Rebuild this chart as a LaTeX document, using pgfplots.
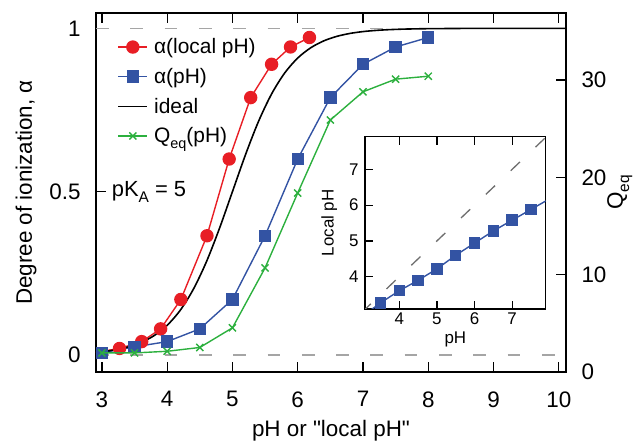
\documentclass[border=0pt]{standalone}
\usepackage{fontspec}
\setmainfont{Liberation Sans}
\usepackage{pgfplots}
\pgfplotsset{compat=1.18}
\definecolor{cred}{RGB}{232,30,37}
\definecolor{cblue}{RGB}{51,83,163}
\definecolor{cgreen}{RGB}{44,176,62}
\definecolor{cgray}{RGB}{165,165,165}
\definecolor{cdgray}{RGB}{110,110,110}
\newcommand{\sub}[1]{\raisebox{-0.28em}{\fontsize{15.5}{16}\selectfont #1}}
\pgfplotsset{
  mainframe/.style={
    scale only axis, width=470bp, height=359bp,
    at={(0,0)}, anchor=south west,
    xmin=2.91, xmax=10.11,
    tick align=inside, major tick length=10bp,
    axis line style={line width=1.6bp},
    tick style={line width=1.3bp, black},
    font=\fontsize{22.5}{27}\selectfont,
    /pgf/number format/assume math mode=true,
  }
}
\begin{document}
\begin{tikzpicture}
\path[use as bounding box] (-96bp,-75bp) rectangle (543bp,372bp);
\begin{axis}[
  mainframe,
  ymin=-0.052, ymax=1.047,
  xtick={3,4,5,6,7,8,9,10}, ytick={0,0.5,1},
  xtick pos=both, ytick pos=left,
  xticklabel shift=16bp, yticklabel shift=12bp,
  xlabel shift=6bp, ylabel shift=6bp,
  xlabel={pH or \textquotedbl local pH\textquotedbl},
  ylabel={Degree of ionization, α},
  legend style={at={(0.039,0.94)}, anchor=north west, draw=none, fill=none,
    font=\fontsize{21}{25}\selectfont, row sep=9bp},
  legend cell align=left,
  legend image code/.code={\draw[mark repeat=2,mark phase=2] plot coordinates {(0bp,0bp) (14.5bp,0bp) (29bp,0bp)}; \path (33bp,0bp);},
]
\addplot[cgray, dash pattern=on 12.7bp off 21.6bp, line width=1.4bp, forget plot] coordinates {(2.91,0) (10.11,0)};
\addplot[cgray, dash pattern=on 12.7bp off 21.6bp, line width=1.4bp, forget plot] coordinates {(2.91,1) (10.11,1)};
\addplot[cred, line width=1.4bp, mark=*, mark size=6bp, mark options={solid}] coordinates {
(2.88,0.007) (3.27,0.020) (3.61,0.041) (3.90,0.080) (4.21,0.170) (4.61,0.365)
(4.95,0.600) (5.28,0.788) (5.60,0.890) (5.89,0.943) (6.18,0.972)};
\addlegendentry{α(local pH)}
\addplot[cblue, line width=1.4bp, mark=square*, mark size=5.5bp, mark options={solid}] coordinates {
(3.0,0.007) (3.5,0.025) (4.0,0.041) (4.5,0.080) (5.0,0.170) (5.5,0.365)
(6.0,0.600) (6.5,0.788) (7.0,0.890) (7.5,0.943) (8.0,0.972)};
\addlegendentry{α(pH)}
\addplot[black, line width=1.6bp, smooth] coordinates {
(2.9,0.0079) (3.0,0.0099) (3.2,0.0156) (3.4,0.0245) (3.6,0.0383) (3.8,0.0594)
(4.0,0.0909) (4.2,0.1368) (4.4,0.2008) (4.6,0.2847) (4.8,0.3869) (5.0,0.5)
(5.2,0.6131) (5.4,0.7153) (5.6,0.7992) (5.8,0.8632) (6.0,0.9091) (6.2,0.9406)
(6.4,0.9617) (6.6,0.9755) (6.8,0.9844) (7.0,0.9901) (7.2,0.9937) (7.4,0.9960)
(7.6,0.9975) (7.8,0.9984) (8.0,0.9990) (8.5,0.9997) (9.0,0.9999) (10.11,1.0)};
\addlegendentry{ideal}
\addlegendimage{cgreen, line width=1.4bp, mark=x, mark size=5bp, mark options={solid}}
\addlegendentry{Q{\raisebox{-0.28em}{\fontsize{14.5}{15}\selectfont eq}}(pH)}
\node[anchor=west, font=\fontsize{22}{26}\selectfont] at (axis cs:3.1,0.5) {pK\sub{A} = 5};
\end{axis}
\begin{axis}[
  mainframe,
  ymin=0, ymax=36.9,
  axis x line=none, axis y line*=right,
  ytick={0,10,20,30},
  yticklabel shift=12bp, ylabel shift=-6bp,
  ylabel={Q\sub{eq}},
]
\addplot[cgreen, line width=1.4bp, mark=x, mark size=5bp, mark options={solid}] coordinates {
(3.0,1.96) (3.5,1.96) (4.0,2.13) (4.5,2.52) (5.0,4.54) (5.5,10.7)
(6.0,18.4) (6.5,25.9) (7.0,28.8) (7.5,30.1) (8.0,30.4)};
\end{axis}
\begin{axis}[
  scale only axis, width=180.7bp, height=172.3bp,
  at={(269bp,63bp)}, anchor=south west,
  xmin=3.09, xmax=7.89, ymin=3.1, ymax=7.91,
  xtick={4,5,6,7}, ytick={4,5,6,7},
  xtick pos=both, ytick pos=left,
  tick align=inside, major tick length=8bp,
  axis line style={line width=1.4bp},
  tick style={line width=1.2bp, black},
  font=\fontsize{17}{20}\selectfont,
  /pgf/number format/assume math mode=true,
  yticklabel shift=3bp, ylabel shift=5bp,
  xlabel={pH}, ylabel={Local pH},
  clip marker paths=true,
  axis background/.style={fill=white},
]
\addplot[cdgray, dash pattern=on 12.7bp off 21.6bp, line width=1.3bp] coordinates {(3,3) (8,8)};
\addplot[cblue, line width=1.4bp, mark=square*, mark size=5bp, mark options={solid}] coordinates {
(3.0,2.88) (3.5,3.27) (4.0,3.61) (4.5,3.90) (5.0,4.22) (5.5,4.60)
(6.0,4.94) (6.5,5.28) (7.0,5.58) (7.5,5.88) (8.0,6.18)};
\end{axis}
\end{tikzpicture}
\end{document}
